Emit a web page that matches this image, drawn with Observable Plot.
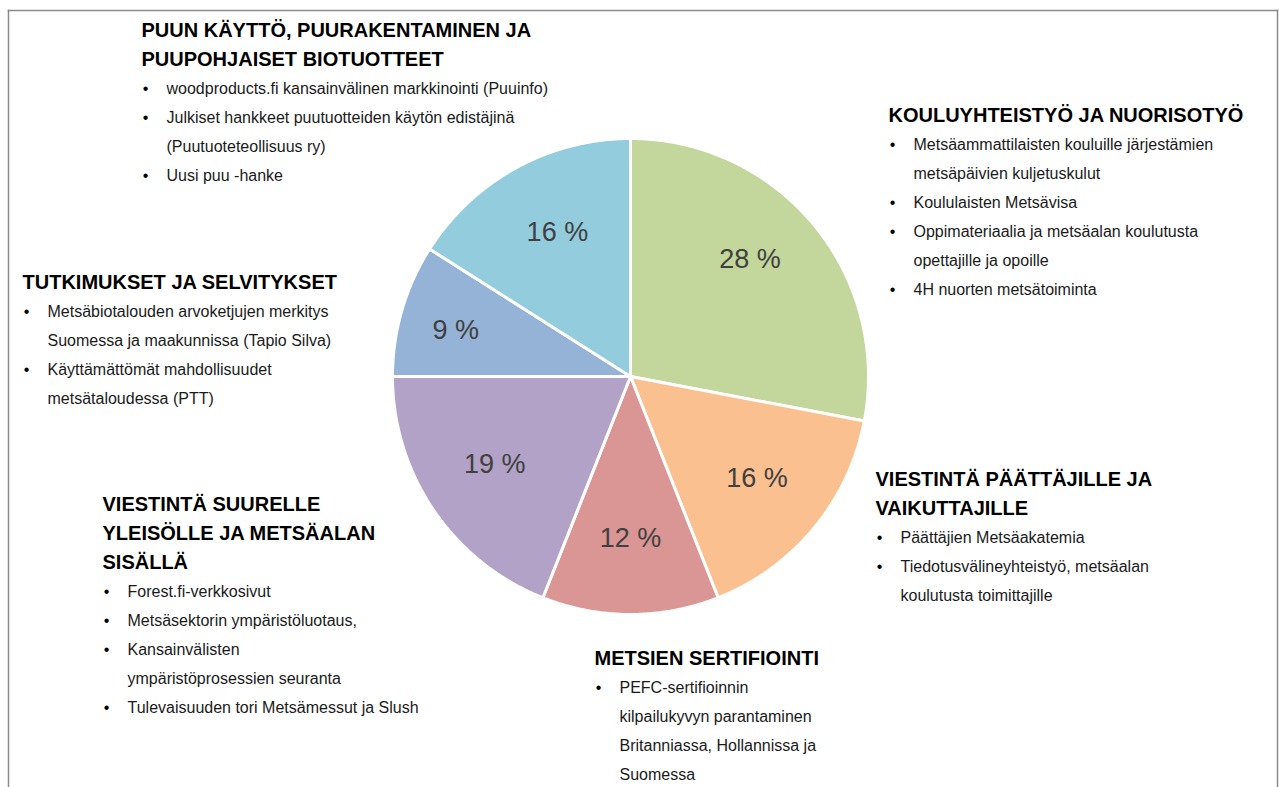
<!DOCTYPE html>
<html>
<head>
<meta charset="utf-8">
<script src="https://cdn.jsdelivr.net/npm/d3@7"></script>
<script src="https://cdn.jsdelivr.net/npm/@observablehq/plot@0.6"></script>
<style>
  html, body { margin: 0; padding: 0; background: #fff; }
  #chart svg { display: block; }
</style>
</head>
<body>
<div id="chart"></div>
<script>
// ---- data ----
const categories = [
  "Kouluyhteistyö ja nuorisotyö",
  "Viestintä päättäjille ja vaikuttajille",
  "Metsien sertifiointi",
  "Viestintä suurelle yleisölle ja metsäalan sisällä",
  "Tutkimukset ja selvitykset",
  "Puun käyttö, puurakentaminen ja puupohjaiset biotuotteet"
];
const shares = [28, 16, 12, 19, 9, 16];
const sliceColors = ["#c3d69b", "#fac090", "#d99694", "#b3a2c7", "#95b3d7", "#93cddd"];

const headings = [
  ["KOULUYHTEISTYÖ JA NUORISOTYÖ"],
  ["VIESTINTÄ PÄÄTTÄJILLE JA", "VAIKUTTAJILLE"],
  ["METSIEN SERTIFIOINTI"],
  ["VIESTINTÄ SUURELLE", "YLEISÖLLE JA METSÄALAN", "SISÄLLÄ"],
  ["TUTKIMUKSET JA SELVITYKSET"],
  ["PUUN KÄYTTÖ, PUURAKENTAMINEN JA", "PUUPOHJAISET BIOTUOTTEET"]
];
const bulletItems = [
  [["Metsäammattilaisten kouluille järjestämien", "metsäpäivien kuljetuskulut"],
   ["Koululaisten Metsävisa"],
   ["Oppimateriaalia ja metsäalan koulutusta", "opettajille ja opoille"],
   ["4H nuorten metsätoiminta"]],
  [["Päättäjien Metsäakatemia"],
   ["Tiedotusvälineyhteistyö, metsäalan", "koulutusta toimittajille"]],
  [["PEFC-sertifioinnin", "kilpailukyvyn parantaminen", "Britanniassa, Hollannissa ja", "Suomessa"]],
  [["Forest.fi-verkkosivut"],
   ["Metsäsektorin ympäristöluotaus,"],
   ["Kansainvälisten", "ympäristöprosessien seuranta"],
   ["Tulevaisuuden tori Metsämessut ja Slush"]],
  [["Metsäbiotalouden arvoketjujen merkitys", "Suomessa ja maakunnissa (Tapio Silva)"],
   ["Käyttämättömät mahdollisuudet", "metsätaloudessa (PTT)"]],
  [["woodproducts.fi kansainvälinen markkinointi (Puuinfo)"],
   ["Julkiset hankkeet puutuotteiden käytön edistäjinä", "(Puutuoteteollisuus ry)"],
   ["Uusi puu -hanke"]]
];

// ---- layout (pixels) ----
const W = 1279, H = 787;
const cx = 630, cy = 376, R = 238;
const blockLayout = [
  {x: 888, y: 115}, {x: 875, y: 479}, {x: 594, y: 658},
  {x: 102, y: 504}, {x: 22, y: 282}, {x: 141, y: 30}
];
const labelNudge = [[-7, -12], [0, -3], [0, -2], [0, -4], [-17, 0], [6, 0]];
const lineStep = 29;
const X = px => (px - cx) / R;
const Y = py => (cy - py) / R;

// ---- pie geometry from data ----
const arcs = d3.pie().sort(null).value(d => d)(shares);
const slicePoints = [];
arcs.forEach((s, i) => {
  slicePoints.push({key: categories[i], x: 0, y: 0, color: sliceColors[i]});
  const n = Math.ceil((s.endAngle - s.startAngle) / (Math.PI / 360));
  for (let k = 0; k <= n; k++) {
    const a = s.startAngle + (s.endAngle - s.startAngle) * k / n;
    slicePoints.push({key: categories[i], x: Math.sin(a), y: Math.cos(a), color: sliceColors[i]});
  }
});
const pctLabels = arcs.map((s, i) => {
  const a = (s.startAngle + s.endAngle) / 2;
  return {
    x: 0.69 * Math.sin(a) + labelNudge[i][0] / R,
    y: 0.69 * Math.cos(a) - labelNudge[i][1] / R,
    text: shares[i] + " %"
  };
});

// ---- annotation lines ----
const headLines = [], bodyLines = [], bulletMarks = [];
headings.forEach((hs, i) => {
  const L = blockLayout[i];
  let row = 0;
  hs.forEach(h => { headLines.push({x: X(L.x), y: Y(L.y + row * lineStep), text: h}); row++; });
  bulletItems[i].forEach(item => {
    item.forEach((line, j) => {
      const py = L.y + row * lineStep;
      if (j === 0) bulletMarks.push({x: X(L.x + 4), y: Y(py)});
      bodyLines.push({x: X(L.x + 25), y: Y(py), text: line});
      row++;
    });
  });
});

const chart = Plot.plot({
  width: W,
  height: H,
  marginLeft: 8,
  marginTop: 10,
  marginRight: 2,
  marginBottom: 0,
  x: {domain: [X(8), X(W - 2)], axis: null},
  y: {domain: [Y(H), Y(10)], axis: null},
  color: {type: "identity"},
  style: {fontFamily: "'Liberation Sans', Arial, sans-serif", background: "#fff"},
  marks: [
    Plot.frame({anchor: "top", stroke: "#8a8a8a", strokeWidth: 1.5}),
    Plot.frame({anchor: "left", stroke: "#8a8a8a", strokeWidth: 1.5}),
    Plot.frame({anchor: "right", stroke: "#8a8a8a", strokeWidth: 1.5}),
    Plot.line(slicePoints, {x: "x", y: "y", z: "key", fill: "color", stroke: "#ffffff", strokeWidth: 3, curve: "linear-closed", strokeLinejoin: "round"}),
    Plot.text(pctLabels, {x: "x", y: "y", text: "text", fontSize: 27, fill: "#404040"}),
    Plot.text(headLines, {x: "x", y: "y", text: "text", textAnchor: "start", fontSize: 20, fontWeight: "bold", fill: "#000"}),
    Plot.text(bulletMarks, {x: "x", y: "y", text: () => "•", fontSize: 16, fill: "#000"}),
    Plot.text(bodyLines, {x: "x", y: "y", text: "text", textAnchor: "start", fontSize: 16, fill: "#1a1a1a"})
  ]
});
document.getElementById("chart").append(chart);
</script>
</body>
</html>
